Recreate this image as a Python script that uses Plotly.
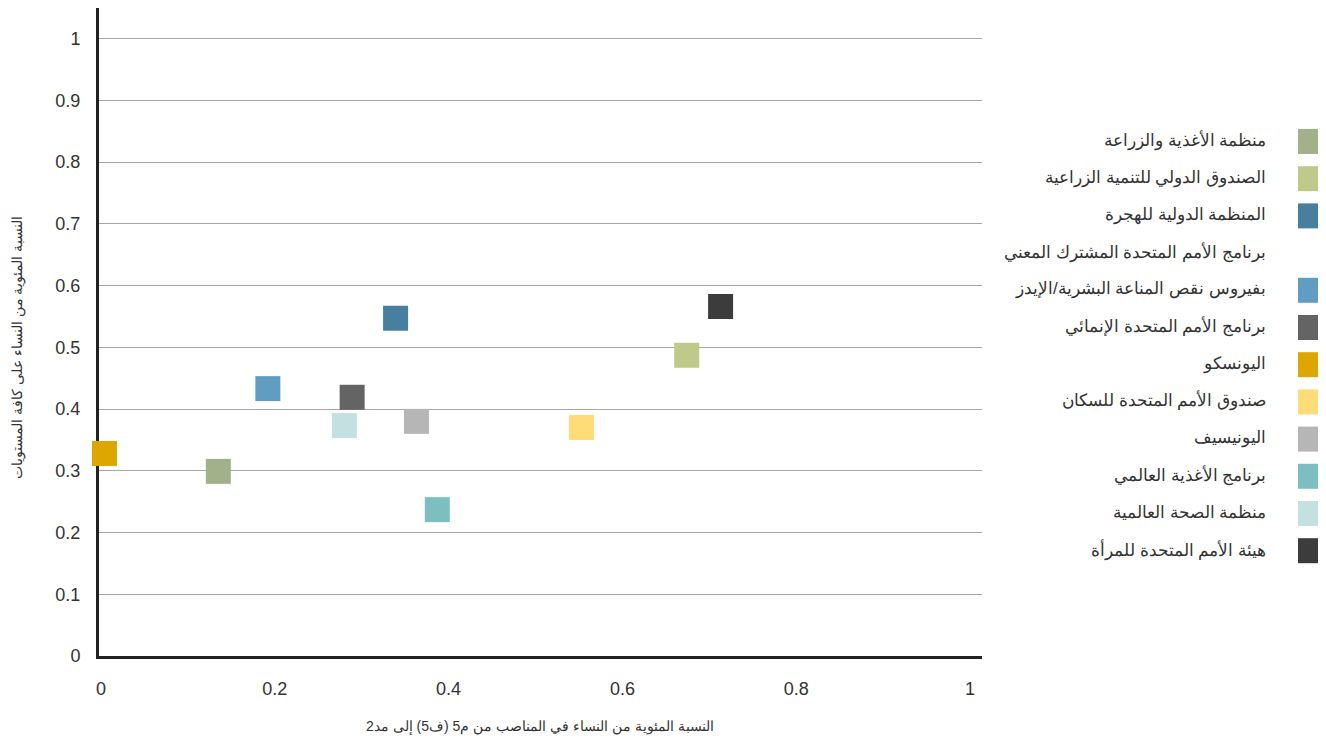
import plotly.graph_objects as go

# ---- data ----
agencies = [
    "منظمة الأغذية والزراعة",
    "الصندوق الدولي للتنمية الزراعية",
    "المنظمة الدولية للهجرة",
    "برنامج الأمم المتحدة المشترك المعني بفيروس نقص المناعة البشرية/الإيدز",
    "برنامج الأمم المتحدة الإنمائي",
    "اليونسكو",
    "صندوق الأمم المتحدة للسكان",
    "اليونيسيف",
    "برنامج الأغذية العالمي",
    "منظمة الصحة العالمية",
    "هيئة الأمم المتحدة للمرأة",
]
legend_lines = [
    ["منظمة الأغذية والزراعة"],
    ["الصندوق الدولي للتنمية الزراعية"],
    ["المنظمة الدولية للهجرة"],
    ["برنامج الأمم المتحدة المشترك المعني", "بفيروس نقص المناعة البشرية/الإيدز"],
    ["برنامج الأمم المتحدة الإنمائي"],
    ["اليونسكو"],
    ["صندوق الأمم المتحدة للسكان"],
    ["اليونيسيف"],
    ["برنامج الأغذية العالمي"],
    ["منظمة الصحة العالمية"],
    ["هيئة الأمم المتحدة للمرأة"],
]
x_values = [0.135, 0.674, 0.339, 0.192, 0.289, 0.004, 0.553, 0.363, 0.387, 0.280, 0.713]
y_values = [0.299, 0.487, 0.547, 0.433, 0.419, 0.328, 0.370, 0.380, 0.237, 0.373, 0.566]
colors = ["#A3B18A", "#BFC98A", "#487E9E", "#5F9EC2", "#646464", "#DDA600",
          "#FFDC78", "#B6B6B6", "#7BBFC0", "#C5E0E0", "#3C3C3C"]

x_ticks = [0, 0.2, 0.4, 0.6, 0.8, 1]
y_ticks = [0, 0.1, 0.2, 0.3, 0.4, 0.5, 0.6, 0.7, 0.8, 0.9, 1]
x_title = "النسبة المئوية من النساء في المناصب من م5 (ف5) إلى مد2"
y_title = "النسبة المئوية من النساء على كافة المستويات"

# ---- layout geometry (page pixels; page body has an 8px margin) ----
OFF = 8
W, H = 1326 - OFF, 741 - OFF
L, R, T, B = 99, 982, 8, 656          # target page pixels of plot area
pl, pr, pt, pb = L - OFF, R - OFF, T - OFF, B - OFF
pw, ph = R - L, B - T

def px_x(p):
    return (p - L) / pw

def px_y(p):
    return (B - p) / ph

fig = go.Figure()
for name, xv, yv, c in zip(agencies, x_values, y_values, colors):
    fig.add_trace(go.Scatter(
        x=[xv], y=[yv], mode="markers", name=name,
        marker=dict(symbol="square", size=25, color=c, line=dict(width=0)),
        showlegend=False, cliponaxis=False,
    ))

font_family = "Liberation Sans, Arial, sans-serif"
annotations = []
shapes = []
line_y = 141.5
step = 37.2
for lines, c in zip(legend_lines, colors):
    for j, ln in enumerate(lines):
        annotations.append(dict(
            text=ln, xref="paper", yref="paper", x=px_x(1268), y=px_y(line_y + j * step - 1),
            xanchor="right", yanchor="middle", showarrow=False,
            font=dict(size=17, color="#333333", family=font_family)))
    sq_y = line_y + (len(lines) - 1) * step
    shapes.append(dict(type="rect", xref="paper", yref="paper",
                       x0=px_x(1298), x1=px_x(1323), y0=px_y(sq_y + 12.5), y1=px_y(sq_y - 12.5),
                       fillcolor=c, line=dict(width=0)))
    line_y += len(lines) * step

annotations.append(dict(text=x_title, xref="paper", yref="paper", x=px_x(540), y=px_y(726),
                        xanchor="center", yanchor="middle", showarrow=False,
                        font=dict(size=14, color="#333333", family=font_family)))
annotations.append(dict(text=y_title, xref="paper", yref="paper", x=px_x(17), y=px_y(348),
                        xanchor="center", yanchor="middle", showarrow=False, textangle=-90,
                        font=dict(size=14, color="#333333", family=font_family)))

x0 = (L - 101) / 869
x1 = (R - 101) / 869
y_top = (B - T) / 617.5

fig.update_layout(
    width=W, height=H,
    margin=dict(l=pl, r=W - pr, t=pt, b=H - pb, pad=0),
    paper_bgcolor="white", plot_bgcolor="white",
    showlegend=False,
    annotations=annotations, shapes=shapes,
    font=dict(family=font_family, color="#333333", size=15),
    xaxis=dict(range=[x0, x1], tickvals=x_ticks, ticktext=[f"{v:g}" for v in x_ticks],
               showgrid=False, zeroline=False, showline=True, linecolor="#222222", linewidth=3,
               ticks="", ticklabelstandoff=14, layer="below traces",
               tickfont=dict(size=18, color="#333333")),
    yaxis=dict(range=[0, y_top], tickvals=y_ticks, ticktext=[f"{v:g}" for v in y_ticks],
               showgrid=True, gridcolor="#a6a6a6", gridwidth=1, zeroline=False,
               showline=True, linecolor="#222222", linewidth=3,
               ticks="", ticklabelstandoff=12, layer="below traces",
               tickfont=dict(size=18, color="#333333")),
)

fig.write_html("out.html")
